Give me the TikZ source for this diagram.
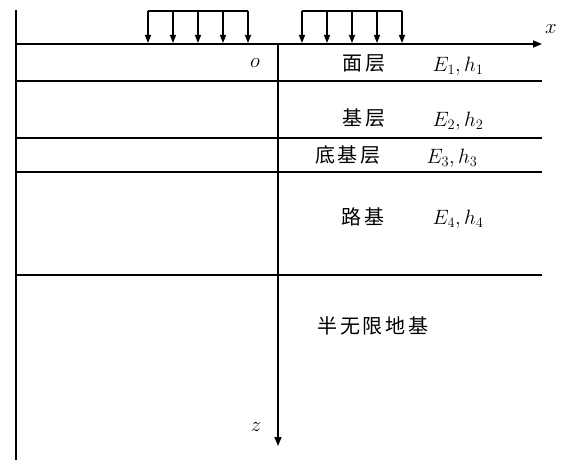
\documentclass[tikz,border=0pt]{standalone}
\usepackage{fontspec}
\newfontfamily\cjk[LetterSpace=14]{Noto Sans CJK SC}
\usetikzlibrary{arrows.meta}
\begin{document}
\begin{tikzpicture}[x=1pt,y=-1pt,
  ln/.style={line width=1.6pt},
  ax/.style={line width=1.6pt,-{Triangle[length=9pt,width=7pt]}},
  ld/.style={line width=1.4pt,-{Triangle[length=8pt,width=6pt]}},
  cn/.style={font=\cjk\fontsize{20}{20}\selectfont,inner sep=0pt},
  mt/.style={font=\fontsize{20}{20}\selectfont,inner sep=0pt}]
\useasboundingbox (0,0) rectangle (563,460);
% axes
\coordinate (L0) at (16,10);
\coordinate (L1) at (16,460);
\draw[ln] (L0) -- (L1);
\coordinate (X0) at (16,44);
\coordinate (X1) at (542,44);
\draw[ax] (X0) -- (X1);
\node[mt] (xl) at (551,29) {$x$};
\coordinate (Z0) at (278,44);
\coordinate (Z1) at (278,446);
\draw[ax] (Z0) -- (Z1);
\node[mt] (zl) at (256,427) {$z$};
\node[mt] (ol) at (255,63) {$o$};
% layer lines
\foreach \y/\n in {81/a,138/b,172/c,275/d}{
  \coordinate (\n0) at (16,\y);
  \coordinate (\n1) at (542,\y);
  \draw[ln] (\n0) -- (\n1);
}
% loads
\draw[ln] (148,11) -- (248,11);
\foreach \x in {148,173,198,223,248}{
  \coordinate (t\x) at (\x,11);
  \coordinate (b\x) at (\x,43);
  \draw[ld] (t\x) -- (b\x);
}
\draw[ln] (302,11) -- (402,11);
\foreach \x in {302,327,352,377,402}{
  \coordinate (t\x) at (\x,11);
  \coordinate (b\x) at (\x,43);
  \draw[ld] (t\x) -- (b\x);
}
% labels
\node[cn] (m1) at (364,63) {面层};
\node[mt] (p1) at (458,66) {$E_1,h_1$};
\node[cn] (m2) at (364,118) {基层};
\node[mt] (p2) at (458,121) {$E_2,h_2$};
\node[cn] (m3) at (348,155) {底基层};
\node[mt] (p3) at (452,158) {$E_3,h_3$};
\node[cn] (m4) at (363,217) {路基};
\node[mt] (p4) at (458,219) {$E_4,h_4$};
\node[cn] (m5) at (373,326) {半无限地基};
\end{tikzpicture}
\end{document}
